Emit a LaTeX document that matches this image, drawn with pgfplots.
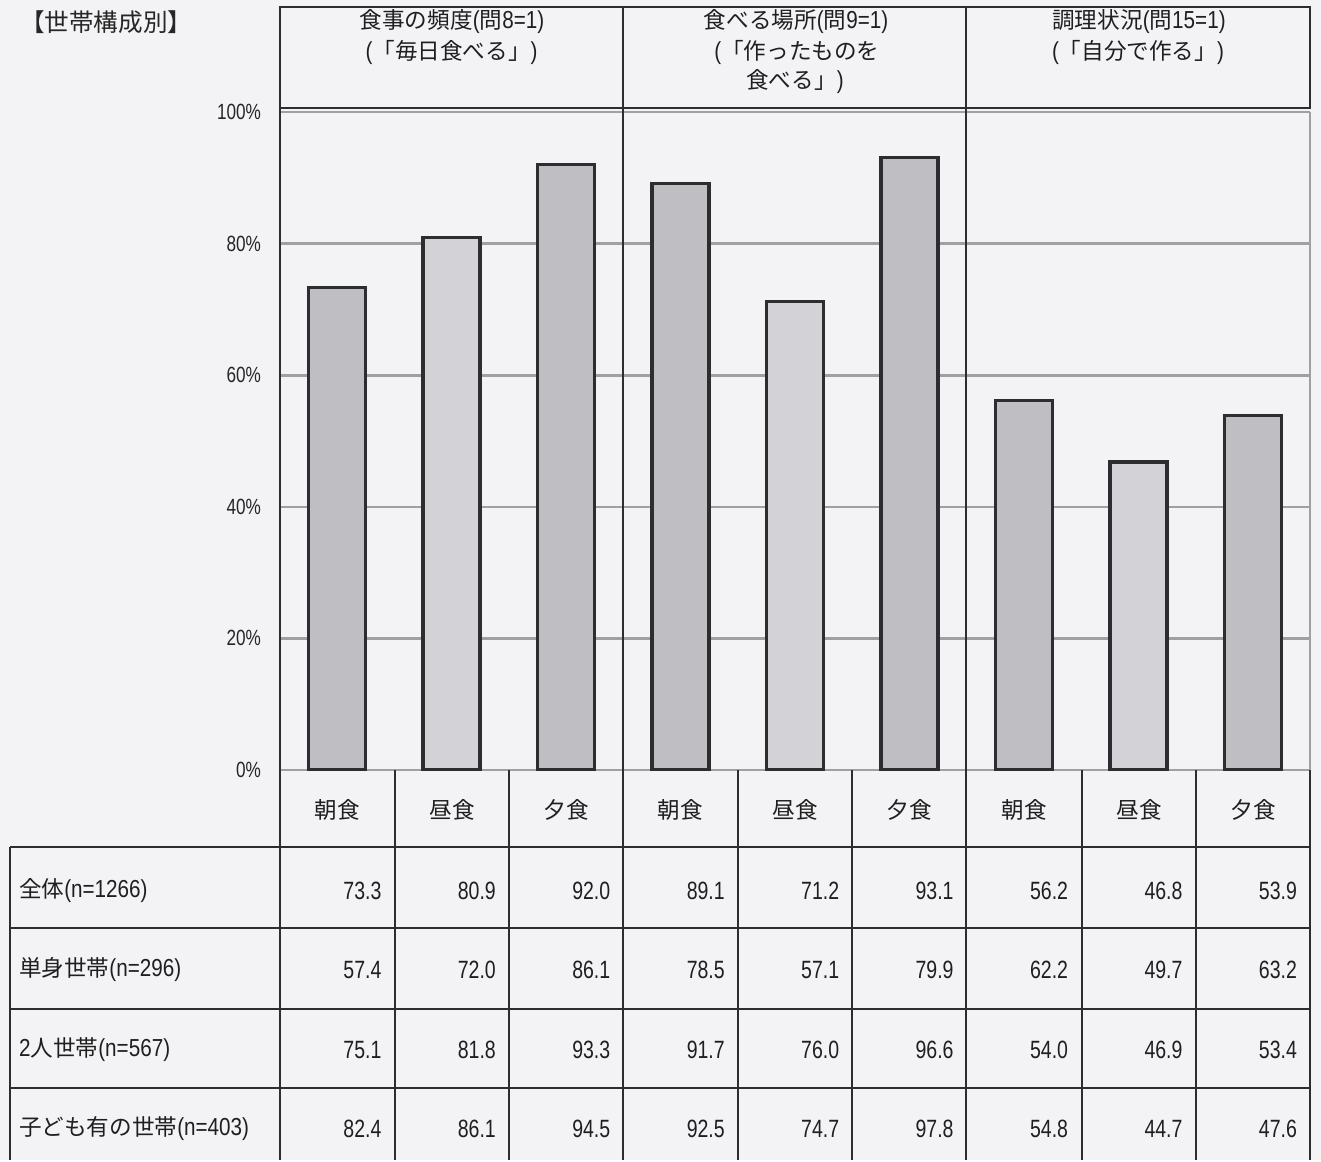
\documentclass[border=0pt]{standalone}
\usepackage{fontspec}
\usepackage{pgfplots}
\pgfplotsset{compat=1.18}
\setmainfont{Noto Sans CJK JP}
\newfontfamily\numfont[FakeStretch=0.78]{Liberation Sans}
\newfontfamily\latfont[FakeStretch=0.84]{Liberation Sans}
\newcommand\n[1]{{\latfont\fontsize{12.3pt}{14pt}\selectfont #1}}
\definecolor{bg}{RGB}{243,243,246}
\definecolor{barA}{RGB}{190,190,195}
\definecolor{barB}{RGB}{211,211,215}
\definecolor{lin}{RGB}{45,45,48}
\definecolor{grd}{RGB}{160,160,164}
\begin{document}
\begin{tikzpicture}[x=0.5pt,y=-0.5pt]
\fill[bg] (0,0) rectangle (1321,1160);
\begin{axis}[
  at={(140pt,-385pt)}, anchor=south west,
  scale only axis, width=515pt, height=329pt,
  xmin=0.5, xmax=9.5, ymin=0, ymax=100,
  axis line style={draw=none},
  xtick=\empty,
  ytick={0,20,40,60,80,100},
  yticklabels={0\%,20\%,40\%,60\%,80\%,100\%},
  major tick length=0pt,
  ymajorgrids,
  grid style={grd, line width=1.3pt},
  yticklabel style={font=\numfont\fontsize{11pt}{12pt}\selectfont, anchor=east, xshift=-6pt, text=black!85},
  ybar, bar width=28.5pt, bar shift=0pt,
]
\addplot[fill=barA, draw=lin, line width=1.7pt] coordinates {(1,73.3) (3,92.0) (4,89.1) (6,93.1) (7,56.2) (9,53.9)};
\addplot[fill=barB, draw=lin, line width=1.7pt] coordinates {(2,80.9) (5,71.2) (8,46.8)};
\end{axis}
% structure lines
\begin{scope}[line width=1.3pt, draw=lin]
\draw (280,7) rectangle (1310,108);
\draw (280,7) -- (280,1160);
\draw (623,7) -- (623,1160);
\draw (966,7) -- (966,1160);
\draw (1310,770) -- (1310,1160);
\foreach \xx in {395,509,738,852,1082,1196} \draw (\xx,770) -- (\xx,1160);
\foreach \yy in {847,928,1009,1088} \draw (10,\yy) -- (1310,\yy);
\draw (10,847) -- (10,1160);
\end{scope}
\draw[grd, line width=1.3pt] (1310,112) -- (1310,770);
% texts
\node[anchor=west, font=\fontsize{12.3pt}{14pt}\selectfont, text=black!85] at (13,22) {【世帯構成別】};
\begin{scope}[every node/.style={font=\fontsize{11.3pt}{14pt}\selectfont, text=black!88}]
\node at (452,22) {食事の頻度\n{(}問\n{8=1)}};
\node at (451.5,52) {\n{(}「毎日食べる」\n{)}};
\node at (796,22) {食べる場所\n{(}問\n{9=1)}};
\node at (797,52) {\n{(}「作ったものを};
\node at (795,82) {食べる」\n{)}};
\node at (1139,22) {調理状況\n{(}問\n{15=1)}};
\node at (1138,52) {\n{(}「自分で作る」\n{)}};
\foreach \cx in {337.5,680.5,1024} \node at (\cx,810) {朝食};
\foreach \cx in {452,795,1139} \node at (\cx,810) {昼食};
\foreach \cx in {566,909,1253} \node at (\cx,810) {夕食};
\node[anchor=west] at (12,891) {全体\n{(n=1266)}};
\node[anchor=west] at (12,970) {単身世帯\n{(n=296)}};
\node[anchor=west] at (12,1050) {\n{2}人世帯\n{(n=567)}};
\node[anchor=west] at (12,1129) {子ども有の世帯\n{(n=403)}};
\end{scope}
\begin{scope}[every node/.style={anchor=east, font=\numfont\fontsize{12.5pt}{13pt}\selectfont, text=black!88}]
\foreach \v [count=\i] in {73.3,80.9,92.0,89.1,71.2,93.1,56.2,46.8,53.9} {
  \pgfmathsetmacro\xr{280+\i*114.44-6}
  \node at (\xr,891) {\v};}
\foreach \v [count=\i] in {57.4,72.0,86.1,78.5,57.1,79.9,62.2,49.7,63.2} {
  \pgfmathsetmacro\xr{280+\i*114.44-6}
  \node at (\xr,970) {\v};}
\foreach \v [count=\i] in {75.1,81.8,93.3,91.7,76.0,96.6,54.0,46.9,53.4} {
  \pgfmathsetmacro\xr{280+\i*114.44-6}
  \node at (\xr,1050) {\v};}
\foreach \v [count=\i] in {82.4,86.1,94.5,92.5,74.7,97.8,54.8,44.7,47.6} {
  \pgfmathsetmacro\xr{280+\i*114.44-6}
  \node at (\xr,1129) {\v};}
\end{scope}
\end{tikzpicture}
\end{document}
